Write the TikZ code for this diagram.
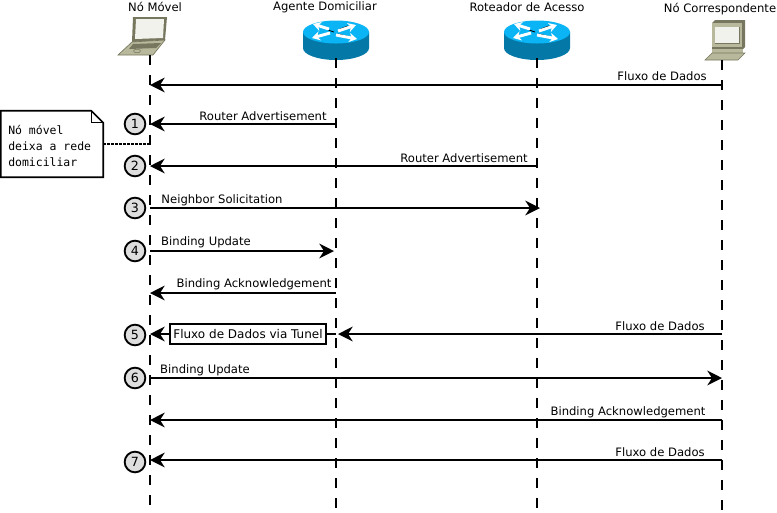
\documentclass[tikz,border=0pt]{standalone}
\usepackage{fontspec}
\setmainfont{DejaVu Sans}
\setmonofont{DejaVu Sans Mono}
\usetikzlibrary{arrows.meta}
\definecolor{routertop}{HTML}{0AB4F5}
\definecolor{routerside}{HTML}{0479A8}
\definecolor{pcdark}{HTML}{77775F}
\definecolor{pcbody}{HTML}{B8B89C}
\definecolor{pcscreen}{HTML}{F2F2EC}
\tikzset{
  head/.style={font=\fontsize{8.7}{11}\selectfont, inner sep=0pt},
  msglabel/.style={font=\fontsize{8.7}{11}\selectfont, inner sep=0pt},
  lifeline/.style={line width=1.5pt, dash pattern=on 7.5pt off 7.5pt},
  msg/.style={line width=1.5pt, -{Stealth[length=11pt,width=11pt,inset=3.5pt]}},
  stepnum/.style={circle, draw, line width=1.4pt, fill=black!13, minimum size=15.5pt, inner sep=0pt, font=\fontsize{9.5}{11}\selectfont},
  router/.pic={
    \fill[routerside] (-33,0) -- (-33,16) arc[start angle=180,end angle=360,x radius=33,y radius=-12] -- (33,0) -- cycle;
    \fill[routertop] (0,0) ellipse[x radius=33,y radius=11.5];
    \draw[black, line width=.6pt] (-8,-2) -- (-2,0) (2,2) -- (14,5) (4,-3) -- (12,-6);
    \draw[white, line width=2.2pt, -{Stealth[length=6pt,width=7pt]}] (-7,-3) -- (-23,-8);
    \draw[white, line width=2.2pt, -{Stealth[length=6pt,width=7pt]}] (2,-1) -- (20,-7);
    \draw[white, line width=2.2pt, -{Stealth[length=6pt,width=7pt]}] (-6,1) -- (-24,6);
    \draw[white, line width=2.2pt, -{Stealth[length=6pt,width=7pt]}] (0,3) -- (21,7);
  },
  laptop/.pic={
    \fill[pcdark] (-17,-39) -- (17,-39) -- (15,-16) -- (-18,-14) -- cycle;
    \fill[pcscreen] (-14,-37) -- (14,-37) -- (13,-18) -- (-15,-17) -- cycle;
    \fill[pcbody, draw=pcdark, line width=.5pt] (-32,-1) -- (-18,-14) -- (15,-16) -- (3,-1) -- cycle;
    \fill[pcdark] (-17,-12) -- (11,-13) -- (6,-8) -- (-21,-7) -- cycle;
    \draw[pcdark, line width=.4pt] (-13,-5) ellipse[x radius=3.5,y radius=1.8];
  },
  desktop/.pic={
    \fill[pcdark] (-10,-37) -- (-7,-40) -- (23,-40) -- (23,-13) -- (20,-10) -- (20,-37) -- cycle;
    \fill[pcbody] (-10,-37) -- (20,-37) -- (20,-13) -- (-10,-13) -- cycle;
    \draw[pcdark, line width=.5pt] (-7,-33) rectangle (17,-17);
    \fill[pcscreen] (-7,-33) rectangle (17,-17);
    \fill[pcdark] (-10,-13) rectangle (21,-11);
    \fill[pcbody] (-10,-11) rectangle (21,-7);
    \fill[pcbody, draw=pcdark, line width=.4pt] (-17,0) -- (-10,-7) -- (23,-7) -- (16,0) -- cycle;
  },
}
\begin{document}
\begin{tikzpicture}[x=.75pt,y=-.75pt]
\useasboundingbox (0,0) rectangle (777,512);

% cabecalhos
\node[head] (movel) at (155,7) {Nó Móvel};
\node[head] (agente) at (325,7) {Agente Domiciliar};
\node[head] (roteador) at (527,7) {Roteador de Acesso};
\node[head] (corresp) at (720,9) {Nó Correspondente};

\pic at (150,56) {laptop};
\pic at (336,32) {router};
\pic at (537,32) {router};
\pic at (722,60) {desktop};

% linhas de vida
\coordinate (movelT) at (150,55);
\coordinate (movelB) at (150,505);
\coordinate (agenteT) at (336,58);
\coordinate (agenteB) at (336,508);
\coordinate (roteadorT) at (537,58);
\coordinate (roteadorB) at (537,508);
\coordinate (correspT) at (722,60);
\coordinate (correspB) at (722,510);
\draw[lifeline] (movelT) -- (movelB);
\draw[lifeline] (agenteT) -- (agenteB);
\draw[lifeline] (roteadorT) -- (roteadorB);
\draw[lifeline] (correspT) -- (correspB);

% mensagens
\coordinate (a1) at (722,85); \coordinate (b1) at (150,85);
\coordinate (a2) at (336,124); \coordinate (b2) at (150,124);
\coordinate (a3) at (537,166); \coordinate (b3) at (150,166);
\coordinate (a4) at (150,208); \coordinate (b4) at (540,208);
\coordinate (a5) at (150,251); \coordinate (b5) at (334,251);
\coordinate (a6) at (336,293); \coordinate (b6) at (150,293);
\coordinate (a7) at (722,334); \coordinate (b7) at (338,334);
\coordinate (a8) at (150,378); \coordinate (b8) at (722,378);
\coordinate (a9) at (722,420); \coordinate (b9) at (150,420);
\coordinate (a10) at (722,460); \coordinate (b10) at (150,460);
\coordinate (a11) at (336,334); \coordinate (b11) at (150,334);

\draw[msg] (a1) -- (b1);
\draw[msg] (a2) -- (b2);
\draw[msg] (a3) -- (b3);
\draw[msg] (a4) -- (b4);
\draw[msg] (a5) -- (b5);
\draw[msg] (a6) -- (b6);
\draw[msg] (a7) -- (b7);
\draw[msg] (a8) -- (b8);
\draw[msg] (a9) -- (b9);
\draw[msg] (a10) -- (b10);
\draw[msg] (a11) -- (b11);

\node[msglabel] (fluxoA) at (662,76) {Fluxo de Dados};
\node[msglabel] (routerA) at (263,116) {Router Advertisement};
\node[msglabel] (routerB) at (464,158) {Router Advertisement};
\node[msglabel] (neighbor) at (222,200) {Neighbor Solicitation};
\node[msglabel] (updateA) at (206,242) {Binding Update};
\node[msglabel] (ackA) at (254,284) {Binding Acknowledgement};
\node[msglabel] (fluxoB) at (660,326) {Fluxo de Dados};
\node[msglabel] (updateB) at (205,370) {Binding Update};
\node[msglabel] (ackB) at (628,412) {Binding Acknowledgement};
\node[msglabel] (fluxoC) at (660,452) {Fluxo de Dados};

\node[draw, fill=white, line width=1.2pt, minimum width=117pt, minimum height=15pt, inner sep=0pt, font=\fontsize{9}{11}\selectfont] (tunel) at (248,334) {Fluxo de Dados via Tunel};

% passos
\node[stepnum] (p1) at (135,124) {1};
\node[stepnum] (p2) at (135,166) {2};
\node[stepnum] (p3) at (135,208) {3};
\node[stepnum] (p4) at (135,251) {4};
\node[stepnum] (p5) at (135,335) {5};
\node[stepnum] (p6) at (135,378) {6};
\node[stepnum] (p7) at (135,462) {7};

% nota
\coordinate (notaL) at (150,144);
\node[minimum width=76.5pt, minimum height=49.5pt, inner sep=0pt] (nota) at (52,144) {};
\draw[fill=white, line width=1.2pt] (nota.north west) -- ([xshift=-9pt]nota.north east) -- ([yshift=-9pt]nota.north east) -- (nota.south east) -- (nota.south west) -- cycle;
\draw[line width=.6pt] ([xshift=-9pt]nota.north east) -- ++(0,12) -- ([yshift=-9pt]nota.north east);
\node[align=left, anchor=west, inner sep=0pt, font=\ttfamily\fontsize{8.6}{12}\selectfont] (notatxt) at (8,146) {Nó móvel\\deixa a rede\\domiciliar};
\draw[line width=2pt, dash pattern=on 1.8pt off 1.2pt] (nota) -- (notaL);

\end{tikzpicture}
\end{document}
